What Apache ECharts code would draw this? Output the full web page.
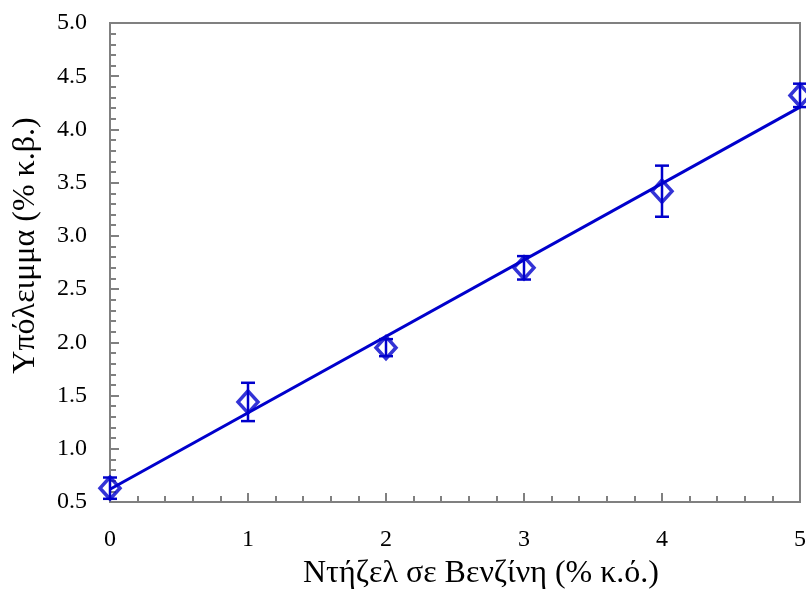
<!DOCTYPE html>
<html>
<head>
<meta charset="utf-8">
<script src="https://cdn.jsdelivr.net/npm/echarts@6/dist/echarts.min.js"></script>
<style>html,body{margin:0;padding:0;background:#fff}#c{width:806px;height:589px}</style>
</head>
<body>
<div id="c"></div>
<script>
const xValues = [0, 1, 2, 3, 4, 5];
const yValues = [0.63, 1.44, 1.95, 2.70, 3.42, 4.32];
const yErrors = [0.10, 0.18, 0.08, 0.11, 0.24, 0.11];
const trendX = [0, 5];
const trendY = [0.62, 4.21];
const xTicks = [0, 1, 2, 3, 4, 5];
const yTicks = [0.5, 1.0, 1.5, 2.0, 2.5, 3.0, 3.5, 4.0, 4.5, 5.0];
const xTitle = 'Ντήζελ σε Βενζίνη (% κ.ό.)';
const yTitle = 'Υπόλειμμα (% κ.β.)';

const BLUE = '#0000CC';
const AXIS = '#808080';
const FONT = 'Liberation Serif';

const chart = echarts.init(document.getElementById('c'));
const errData = xValues.map((x, i) => [x, yValues[i] - yErrors[i], yValues[i] + yErrors[i]]);

chart.setOption({
  animation: false,
  grid: { left: 110, right: 6, top: 23, bottom: 87, containLabel: false, outerBoundsMode: 'none',
          show: true, borderColor: AXIS, borderWidth: 2, backgroundColor: '#fff' },
  xAxis: {
    type: 'value', min: xTicks[0], max: xTicks[xTicks.length - 1], interval: 1,
    name: xTitle, nameLocation: 'middle', nameGap: 56,
    nameTextStyle: { fontFamily: FONT, fontSize: 32, color: '#000', padding: [0, 0, 0, 52] },
    axisLine: { lineStyle: { color: AXIS, width: 2 } },
    axisTick: { inside: true, length: 9, lineStyle: { color: AXIS, width: 2 } },
    minorTick: { show: true, splitNumber: 5, length: 6, lineStyle: { color: AXIS, width: 2 } },
    axisLabel: { fontFamily: FONT, fontSize: 24, color: '#000', margin: 26 },
    splitLine: { show: false }
  },
  yAxis: {
    type: 'value', min: yTicks[0], max: yTicks[yTicks.length - 1], interval: 0.5,
    name: yTitle, nameLocation: 'middle', nameGap: 68, nameRotate: 90,
    nameTextStyle: { fontFamily: FONT, fontSize: 32, color: '#000', padding: [0, 0, 0, 34] },
    axisLine: { lineStyle: { color: AXIS, width: 2 } },
    axisTick: { inside: true, length: 9, lineStyle: { color: AXIS, width: 2 } },
    minorTick: { show: true, splitNumber: 5, length: 6, lineStyle: { color: AXIS, width: 2 } },
    axisLabel: { fontFamily: FONT, fontSize: 24, color: '#000', margin: 23, formatter: v => v.toFixed(1) },
    splitLine: { show: false }
  },
  series: [
    {
      type: 'line', data: trendX.map((x, i) => [x, trendY[i]]),
      showSymbol: false, lineStyle: { color: BLUE, width: 3 }, z: 2
    },
    {
      type: 'custom', data: errData, z: 3,
      renderItem: (params, api) => {
        const x = api.value(0);
        const lo = api.coord([x, api.value(1)]);
        const hi = api.coord([x, api.value(2)]);
        const w = 7;
        const st = { stroke: BLUE, lineWidth: 2.5 };
        return {
          type: 'group',
          children: [
            { type: 'line', shape: { x1: lo[0], y1: lo[1], x2: hi[0], y2: hi[1] }, style: st },
            { type: 'line', shape: { x1: lo[0] - w, y1: lo[1], x2: lo[0] + w, y2: lo[1] }, style: st },
            { type: 'line', shape: { x1: hi[0] - w, y1: hi[1], x2: hi[0] + w, y2: hi[1] }, style: st }
          ]
        };
      }
    },
    {
      type: 'scatter', data: xValues.map((x, i) => [x, yValues[i]]), z: 4,
      symbol: 'diamond', symbolSize: [20, 22],
      itemStyle: { color: 'rgba(0,0,0,0)', borderColor: BLUE, borderWidth: 3.5 }
    }
  ]
});
</script>
</body>
</html>
